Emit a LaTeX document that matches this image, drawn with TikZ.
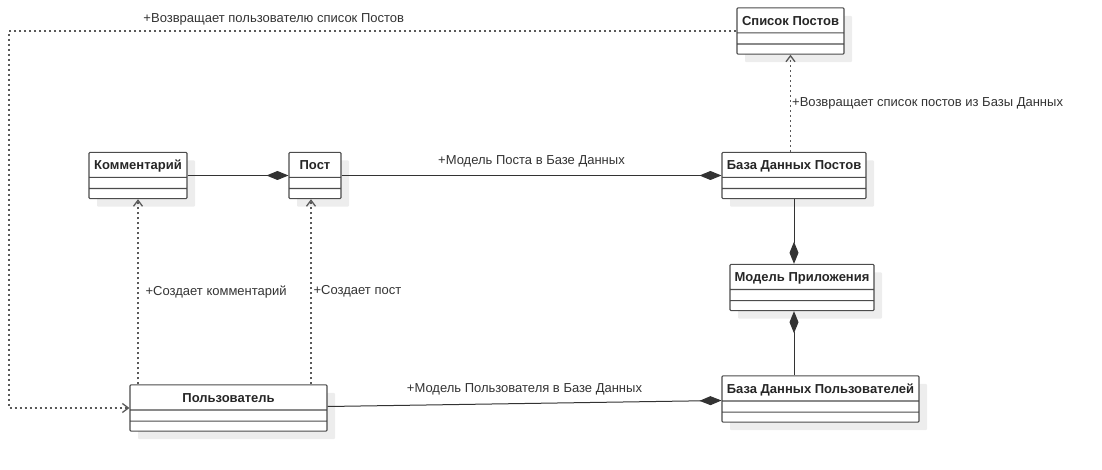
\documentclass[tikz,border=0pt]{standalone}
\usepackage{fontspec}
\setmainfont{Liberation Sans}
\usetikzlibrary{arrows.meta, positioning, shapes.multipart, shadows}

\begin{document}
\begin{tikzpicture}[x=1pt,y=-1pt,node distance=2cm,on grid,
	umlclass/.style={rectangle split, rectangle split parts=3, draw=black!70, line width=1.1pt,
		fill=white, inner ysep=0pt, inner xsep=4pt, rounded corners=1pt,
		font=\fontsize{13}{15}\selectfont\bfseries, text=black!85,
		drop shadow={shadow xshift=8pt, shadow yshift=-8pt, fill=black!7, opacity=1}}]
					\useasboundingbox (0,0) rectangle (1102,470);
					\node[umlclass, minimum width=98pt] (KM) at (138,175.5) {Комментарий\rule[-7pt]{0pt}{24pt}\nodepart{two}\rule{0pt}{10pt}\nodepart{three}\rule{0pt}{9pt}};
					\node[umlclass, minimum width=52pt] (PS) [right=177pt of KM] {Пост\rule[-7pt]{0pt}{24pt}\nodepart{two}\rule{0pt}{10pt}\nodepart{three}\rule{0pt}{9pt}};
					\node[umlclass, minimum width=144pt] (BDP) [right=479pt of PS] {База Данных Постов\rule[-7pt]{0pt}{24pt}\nodepart{two}\rule{0pt}{10pt}\nodepart{three}\rule{0pt}{9pt}};
					\node[umlclass, minimum width=107pt] (SP) [above left=144.5pt and 3.5pt of BDP] {Список Постов\rule[-7pt]{0pt}{24pt}\nodepart{two}\rule{0pt}{10pt}\nodepart{three}\rule{0pt}{9pt}};
					\node[umlclass, minimum width=144pt] (MP) [below right=112pt and 8pt of BDP] {Модель Приложения\rule[-7pt]{0pt}{24pt}\nodepart{two}\rule{0pt}{10pt}\nodepart{three}\rule{0pt}{9pt}};
					\node[umlclass, minimum width=197pt] (BDU) [below right=111.5pt and 18.5pt of MP] {База Данных Пользователей\rule[-7pt]{0pt}{24pt}\nodepart{two}\rule{0pt}{10pt}\nodepart{three}\rule{0pt}{9pt}};
					\node[umlclass, minimum width=197pt] (US) [below right=232.5pt and 90.5pt of KM] {Пользователь\rule[-7pt]{0pt}{24pt}\nodepart{two}\rule{0pt}{10pt}\nodepart{three}\rule{0pt}{9pt}};
					\coordinate (L) at (9,408);
					\coordinate (PSx) at ([xshift=-4pt]PS.south);
					
					\tikzset{compose/.style={draw=black!80, line width=1pt, -{Diamond[length=22pt,width=9pt]}}}
					\tikzset{depend/.style={draw=black!65, line width=1.3pt, dash pattern=on 2pt off 3pt, -{Straight Barb[length=6pt,width=9pt]}}}
					\tikzset{lbl/.style={font=\fontsize{13}{15}\selectfont, text=black!80, inner sep=1pt}}
					
					\path (KM) edge [compose] (PS);
					\path (PS) edge [compose] node[lbl, above=7pt] {+Модель Поста в Базе Данных} (BDP);
					\path (BDP.south) edge [compose] (BDP.south |- MP.north);
					\path (BDP.south |- BDU.north) edge [compose] (BDP.south |- MP.south);
					\path (US) edge [compose] node[lbl, above=7pt] {+Модель Пользователя в Базе Данных} (BDU);
					
					\path (SP.south |- BDP.north) edge [depend] node[lbl, right=0pt] {+Возвращает список постов из Базы Данных} (SP.south);
					\path (KM.south |- US.north) edge [depend] node[lbl, right=6pt] {+Создает комментарий} (KM.south);
					\path (PSx |- US.north) edge [depend] node[lbl, right=1pt] {+Создает пост} (PSx);
					\draw [depend] (SP.west) -- node[lbl, above=4pt, pos=.636] {+Возвращает пользователю список Постов} (SP.west -| L) -- (L |- US.west) -- (US.west);
				\end{tikzpicture}
\end{document}
